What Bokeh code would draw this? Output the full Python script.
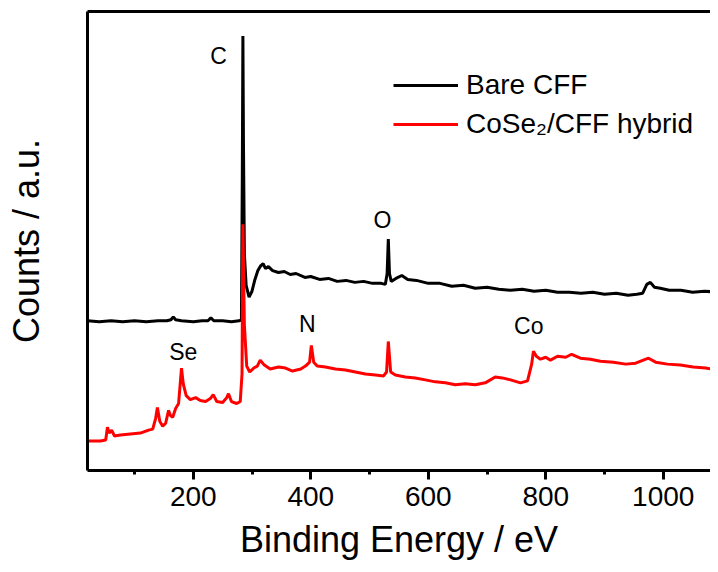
from bokeh.plotting import figure
from bokeh.models import (Range1d, LinearAxis, FixedTicker, SingleIntervalTicker,
                          Legend, LegendItem, ColumnDataSource)
from bokeh.core.properties import value
from bokeh.embed import file_html
from bokeh.resources import INLINE

# ---- data (binding energy in eV, counts in arbitrary units) ----
bare_be = [20, 40, 60, 80, 100, 120, 140, 155, 162, 166, 170, 180, 200, 215, 225, 230, 235,
           250, 265, 278, 282, 283.5, 284.5, 285.5, 287, 290, 295, 300, 305, 310, 315, 319,
           323, 328, 335, 345, 355, 365, 375, 390, 400, 415, 430, 445, 460, 475, 490, 505,
           520, 527, 530, 532, 534, 537, 545, 555, 565, 580, 600, 620, 640, 660, 680, 700,
           720, 740, 760, 780, 800, 820, 840, 860, 880, 900, 920, 940, 955, 965, 972, 978,
           985, 995, 1010, 1030, 1050, 1070, 1094]
bare_counts = [152, 151, 152, 151, 152, 151, 152, 152, 153, 156, 153, 152, 151, 152, 152, 155, 152,
               152, 151, 152, 153, 300, 441, 330, 220, 188, 176, 182, 194, 203, 208, 210,
               205, 207, 203, 201, 202, 199, 200, 196, 197, 194, 195, 192, 193, 191, 192, 190,
               190, 189, 200, 235, 200, 192, 195, 198, 194, 193, 190, 190, 187, 188, 185, 186,
               184, 183, 184, 182, 183, 181, 181, 180, 181, 179, 180, 178, 179, 180, 189, 191,
               186, 185, 183, 183, 181, 182, 181]

hybrid_be = [20, 42, 51, 54, 57, 61, 66, 76, 93, 110, 124, 131, 136, 139, 143, 148, 153, 158,
             161, 165, 170, 175, 180, 183, 188, 195, 204, 212, 221, 229, 234, 240, 250, 257,
             260, 265, 274, 280, 283, 284.5, 287, 291, 296, 303, 309, 314, 321, 331, 345,
             357, 369, 383, 391, 398, 401, 405, 411, 425, 442, 459, 476, 493, 510, 524, 529,
             532, 536, 544, 561, 578, 595, 612, 629, 646, 663, 680, 697, 714, 726, 740, 757,
             769, 776, 779, 784, 791, 800, 808, 820, 834, 844, 859, 876, 893, 915, 936, 953,
             966, 975, 987, 1007, 1029, 1051, 1072, 1094]
hybrid_counts = [30, 30, 31, 44, 38, 41, 35, 36, 37, 38, 41, 42, 53, 64, 50, 45, 48, 61,
                 56, 54, 63, 68, 104, 88, 76, 72, 74, 71, 70, 73, 77, 70, 69, 74,
                 78, 70, 68, 70, 98, 250, 148, 106, 100, 104, 106, 112, 107, 103, 105,
                 104, 101, 103, 106, 110, 127, 110, 106, 105, 103, 102, 100, 98, 97, 96, 100,
                 131, 100, 97, 95, 94, 92, 90, 89, 87, 88, 87, 89, 95, 94, 92, 89,
                 91, 108, 121, 116, 113, 115, 112, 116, 115, 118, 114, 113, 111, 110, 108, 109,
                 112, 114, 110, 108, 107, 105, 104, 102]

peak_names = ["C", "O", "N", "Se", "Co"]
peak_be = [243, 522, 394, 183, 771]
peak_counts = [421, 254, 149, 120, 147]

series_names = ["Bare CFF", "CoSe\u2082/CFF hybrid"]
series_colors = ["#000000", "#ff0000"]

FONT = "Liberation Sans"

p = figure(width=710, height=564, output_backend="svg", toolbar_location=None,
           x_range=Range1d(20, 1080.4), y_range=Range1d(0, 466),
           x_axis_type=None, y_axis_type=None,
           min_border_left=87, min_border_right=0, min_border_top=11, min_border_bottom=94)
p.outline_line_color = None
p.background_fill_color = "white"
p.border_fill_color = "white"

r_bare = p.line(bare_be, bare_counts, line_color=series_colors[0], line_width=3)
r_hyb = p.line(hybrid_be, hybrid_counts, line_color=series_colors[1], line_width=3)

src = ColumnDataSource(dict(x=peak_be, y=peak_counts, t=peak_names))
p.text(x="x", y="y", text="t", source=src, text_font=value(FONT), text_font_size="23px",
       text_align="center", text_baseline="middle", text_color="black")

# axes
xaxis = LinearAxis(ticker=SingleIntervalTicker(interval=200, num_minor_ticks=2),
                   axis_label="Binding Energy / eV")
xaxis.axis_line_width = 3
xaxis.major_tick_line_width = 3
xaxis.minor_tick_line_width = 3
xaxis.major_tick_out = 9
xaxis.major_tick_in = 0
xaxis.minor_tick_out = 4
xaxis.minor_tick_in = 0
xaxis.major_label_text_font = FONT
xaxis.major_label_text_font_size = "28px"
xaxis.major_label_text_color = "black"
xaxis.major_label_standoff = 7
xaxis.axis_label_text_font = FONT
xaxis.axis_label_text_font_size = "36px"
xaxis.axis_label_text_font_style = "normal"
xaxis.axis_label_text_color = "black"
xaxis.axis_label_standoff = 10
p.add_layout(xaxis, "below")

yaxis = LinearAxis(ticker=FixedTicker(ticks=[]), axis_label="Counts / a.u.")
yaxis.axis_line_width = 3
yaxis.major_tick_out = 0
yaxis.minor_tick_out = 0
yaxis.major_label_text_font_size = "0px"
yaxis.major_label_standoff = 0
yaxis.axis_label_text_font = FONT
yaxis.axis_label_text_font_size = "36px"
yaxis.axis_label_text_font_style = "normal"
yaxis.axis_label_text_color = "black"
yaxis.axis_label_standoff = 41
p.add_layout(yaxis, "left")

topaxis = LinearAxis(ticker=FixedTicker(ticks=[]))
topaxis.axis_line_width = 3
topaxis.major_tick_out = 0
topaxis.minor_tick_out = 0
topaxis.major_label_text_font_size = "0px"
topaxis.major_label_standoff = 0
p.add_layout(topaxis, "above")

legend = Legend(items=[LegendItem(label=series_names[0], renderers=[r_bare]),
                       LegendItem(label=series_names[1], renderers=[r_hyb])],
                location=(306, 330))
legend.glyph_width = 65
legend.glyph_height = 20
legend.label_height = 20
legend.label_standoff = 8
legend.spacing = 7
legend.padding = 0
legend.margin = 0
legend.border_line_color = None
legend.background_fill_alpha = 0
legend.label_text_font = FONT
legend.label_text_font_size = "28px"
legend.label_text_color = "black"
p.add_layout(legend, "center")

open("out.html", "w").write(file_html(p, INLINE))
